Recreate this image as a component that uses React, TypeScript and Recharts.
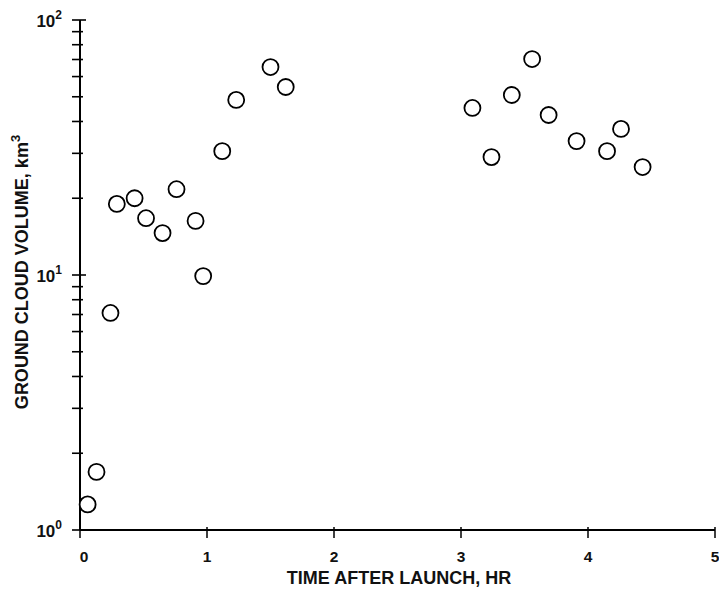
import { ScatterChart, Scatter, XAxis, YAxis, Label } from 'recharts';

// time after launch (hr) and ground cloud volume (km^3)
const hours = [
  0.06, 0.13, 0.24, 0.29, 0.43, 0.52, 0.65, 0.76, 0.91, 0.97, 1.12, 1.23, 1.5, 1.62,
  3.09, 3.24, 3.4, 3.56, 3.69, 3.91, 4.15, 4.26, 4.43,
];
const volumes = [
  1.26, 1.69, 7.1, 19.0, 20.0, 16.7, 14.6, 21.7, 16.3, 9.9, 30.6, 48.6, 65.4, 54.6,
  45.2, 29.0, 50.8, 70.3, 42.4, 33.5, 30.6, 37.4, 26.5,
];

const xTicks = [0, 1, 2, 3, 4, 5];
const yTicks = [1, 2, 3, 4, 5, 6, 7, 8, 9, 10, 20, 30, 40, 50, 60, 70, 80, 90, 100];
const yMajor = [1, 10, 100];
const yExponent: Record<number, string> = { 1: '0', 10: '1', 100: '2' };

const data = hours.map((x, i) => ({ x, y: volumes[i] }));

const FONT = '"Liberation Sans", Arial, sans-serif';

const XTick = (props: any) => {
  const { x, y, payload } = props;
  return (
    <g>
      <line x1={x} y1={y} x2={x} y2={y - 11} stroke="#000" strokeWidth={1.5} />
      <text x={x + (payload.value === 0 ? 4 : 0)} y={y + 24} textAnchor="middle" fontFamily={FONT} fontWeight="bold" fontSize={15.5} fill="#111">
        {payload.value}
      </text>
    </g>
  );
};

const YTick = (props: any) => {
  const { x, y, payload } = props;
  const major = yMajor.includes(payload.value);
  return (
    <g>
      <line x1={x} y1={y} x2={x + (major ? 14 : 11)} y2={y} stroke="#000" strokeWidth={1.6} />
      {major && (
        <text x={x - 10} y={y + 7} textAnchor="end" fontFamily={FONT} fontWeight="bold" fontSize={17} fill="#111">
          10
          <tspan fontSize={12} dy={-8}>{yExponent[payload.value]}</tspan>
        </text>
      )}
    </g>
  );
};

const Ring = (props: any) => {
  const { cx, cy } = props;
  return <circle cx={cx} cy={cy} r={8} fill="#fff" stroke="#000" strokeWidth={1.8} />;
};

const XTitle = () => (
  <text x={399} y={584} textAnchor="middle" fontFamily={FONT} fontWeight="bold" fontSize={18} fill="#111">
    TIME AFTER LAUNCH, HR
  </text>
);

const YTitle = () => (
  <text
    x={28}
    y={272}
    transform="rotate(-90 28 272)"
    textAnchor="middle"
    fontFamily={FONT}
    fontWeight="bold"
    fontSize={18}
    fill="#111"
  >
    GROUND CLOUD VOLUME, km
    <tspan fontSize={13} dy={-8}>3</tspan>
  </text>
);

export default function App() {
  return (
    <div style={{ position: 'absolute', left: 0, top: 0, width: 719, height: 589, background: '#fff' }}>
      <ScatterChart width={719} height={589} margin={{ top: 20, right: 4, bottom: 0, left: 0 }}>
        <XAxis
          type="number"
          dataKey="x"
          domain={[0, 5]}
          ticks={xTicks}
          height={59}
          axisLine={{ stroke: '#000', strokeWidth: 2 }}
          tickLine={false}
          tick={<XTick />}
          interval={0}
        >
          <Label content={<XTitle />} />
        </XAxis>
        <YAxis
          type="number"
          dataKey="y"
          scale="log"
          domain={[1, 100]}
          ticks={yTicks}
          width={80}
          axisLine={{ stroke: '#000', strokeWidth: 2 }}
          tickLine={false}
          tick={<YTick />}
          interval={0}
          allowDataOverflow
        >
          <Label content={<YTitle />} />
        </YAxis>
        <Scatter data={data} shape={<Ring />} isAnimationActive={false} />
      </ScatterChart>
    </div>
  );
}
